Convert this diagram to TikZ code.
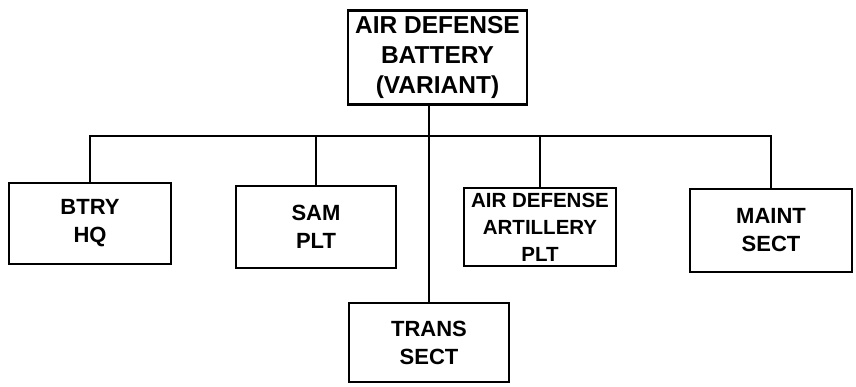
\documentclass[tikz,border=0pt]{standalone}
\usepackage{fontspec}
\setmainfont{Liberation Sans}
\usepackage{tikz}
\usetikzlibrary{positioning,calc}

\begin{document}
\begin{tikzpicture}[x=1pt,y=-1pt,
      unit/.style={rectangle,draw,line width=2.6pt,inner sep=0pt,align=center,
                   font=\fontsize{22}{28}\selectfont\bfseries},
      link/.style={line width=2.2pt}]
    \useasboundingbox (0,0) rectangle (856,386);
    \node[unit,minimum width=179,minimum height=94,font=\fontsize{24.5}{30}\selectfont\bfseries] (bty) at (437.5,57.5) {AIR DEFENSE\\BATTERY\\(VARIANT)};
    \node[unit,minimum width=162,minimum height=81] (hq) at (90,223.5) {BTRY\\HQ};
    \node[unit,minimum width=160,minimum height=82] (sam) at (316,227) {SAM\\PLT};
    \node[unit,minimum width=152,minimum height=78,font=\fontsize{20.5}{27}\selectfont\bfseries] (ada) at (540,227) {AIR DEFENSE\\ARTILLERY\\PLT};
    \node[unit,minimum width=162,minimum height=83] (maint) at (771,230.5) {MAINT\\SECT};
    \node[unit,minimum width=160,minimum height=79] (trans) at (429,342.5) {TRANS\\SECT};
    \coordinate (bus) at (0,136);
    \draw[link] (trans.north |- bty.south) -- (trans.north);
    \draw[link] (hq.north) -- (hq.north |- bus) -- (maint.north |- bus) -- (maint.north);
    \draw[link] (sam.north) -- (sam.north |- bus);
    \draw[link] (ada.north) -- (ada.north |- bus);
  \end{tikzpicture}
\end{document}
